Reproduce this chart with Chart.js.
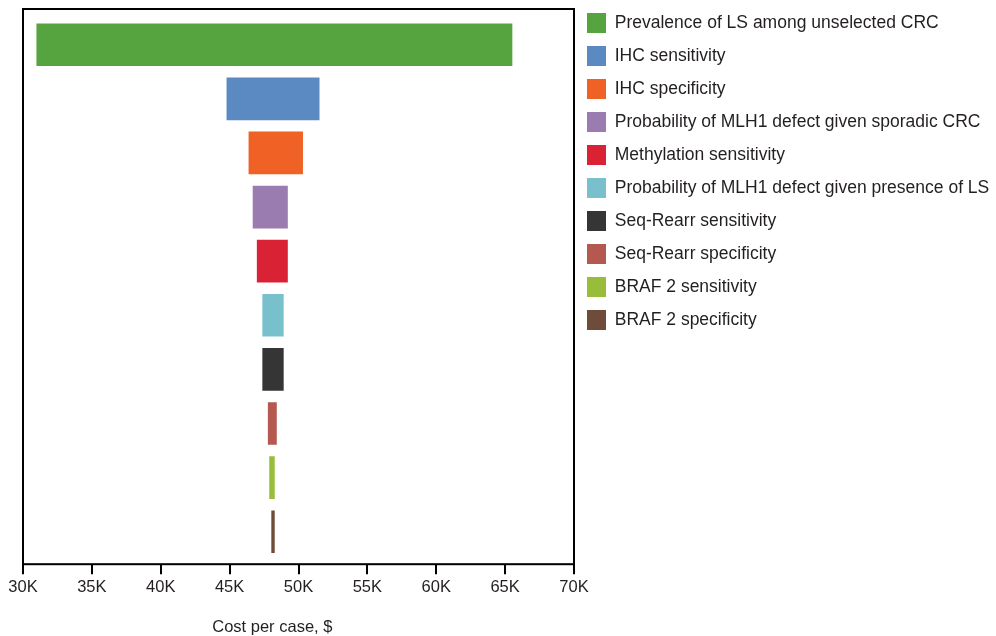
<!DOCTYPE html>
<html>
<head>
<meta charset="utf-8">
<script src="https://cdn.jsdelivr.net/npm/chart.js@4"></script>
<style>
  html, body { margin: 0; padding: 0; background: #fff; }
  #wrap { width: 996px; height: 636px; }
</style>
</head>
<body>
<div id="wrap"><canvas id="tornado-chart"></canvas></div>
<script>
// One-way sensitivity analysis (tornado)
const parameters = [
  "Prevalence of LS among unselected CRC",
  "IHC sensitivity",
  "IHC specificity",
  "Probability of MLH1 defect given sporadic CRC",
  "Methylation sensitivity",
  "Probability of MLH1 defect given presence of LS",
  "Seq-Rearr sensitivity",
  "Seq-Rearr specificity",
  "BRAF 2 sensitivity",
  "BRAF 2 specificity",
];
const lowCost = [31000, 44800, 46400, 46700, 47000, 47400, 47400, 47800, 47900, 48050];
const highCost = [65500, 51500, 50300, 49200, 49200, 48900, 48900, 48400, 48250, 48250];
const barColors = [
  "#56a440", "#5b89c1", "#f06125", "#9a7cb0", "#d92335",
  "#78c1cc", "#353535", "#b4594f", "#97bd3a", "#6f4b39",
];
const xTicks = [30000, 35000, 40000, 45000, 50000, 55000, 60000, 65000, 70000];

const textColor = "#231f20";
const fontFamily = "'Liberation Sans', Arial, sans-serif";

// frame round the plot + axis title
const framePlugin = {
  id: "frame",
  afterDraw(chart) {
    const { ctx, chartArea: a, scales } = chart;
    ctx.save();
    ctx.strokeStyle = "#000";
    ctx.lineWidth = 2;
    ctx.strokeRect(a.left, a.top, a.right - a.left, a.bottom - a.top);
    ctx.fillStyle = textColor;
    ctx.font = "16.5px " + fontFamily;
    ctx.textAlign = "center";
    ctx.textBaseline = "alphabetic";
    ctx.fillText("Cost per case, $", scales.x.getPixelForValue(48100), scales.x.bottom + 32);
    ctx.restore();
  },
};

const ctx = document.getElementById("tornado-chart");
new Chart(ctx, {
  type: "bar",
  data: {
    datasets: parameters.map((name, i) => ({
      label: name,
      data: [{ y: i, x: [lowCost[i], highCost[i]] }],
      backgroundColor: barColors[i],
      borderWidth: 0,
      grouped: false,
      barThickness: 42,
    })),
  },
  options: {
    indexAxis: "y",
    responsive: true,
    maintainAspectRatio: false,
    animation: false,
    layout: { padding: { left: 23, right: 0, top: 0, bottom: 36 } },
    scales: {
      x: {
        type: "linear",
        position: "bottom",
        min: 30000,
        max: 70000,
        afterBuildTicks: (scale) => {
          scale.ticks = xTicks.map((v) => ({ value: v }));
        },
        grid: {
          display: true,
          drawOnChartArea: false,
          drawTicks: true,
          tickLength: 10,
          lineWidth: 2,
          color: "#000",
        },
        border: { display: false },
        ticks: {
          color: textColor,
          padding: 3,
          font: { family: fontFamily, size: 16.5 },
          callback: (v) => v / 1000 + "K",
        },
      },
      xTop: {
        type: "linear",
        position: "top",
        display: true,
        grid: { display: false },
        border: { display: false },
        ticks: { display: false },
        afterFit: (scale) => { scale.height = 9; },
      },
      y: {
        type: "linear",
        display: false,
        reverse: true,
        offset: false,
        min: -0.66,
        max: 9.6,
      },
    },
    plugins: {
      legend: {
        position: "right",
        align: "start",
        maxWidth: 422,
        labels: {
          boxWidth: 19,
          boxHeight: 20,
          padding: 13,
          color: textColor,
          font: { family: fontFamily, size: 17.5 },
        },
      },
      tooltip: { enabled: false },
    },
  },
  plugins: [framePlugin],
});
</script>
</body>
</html>
